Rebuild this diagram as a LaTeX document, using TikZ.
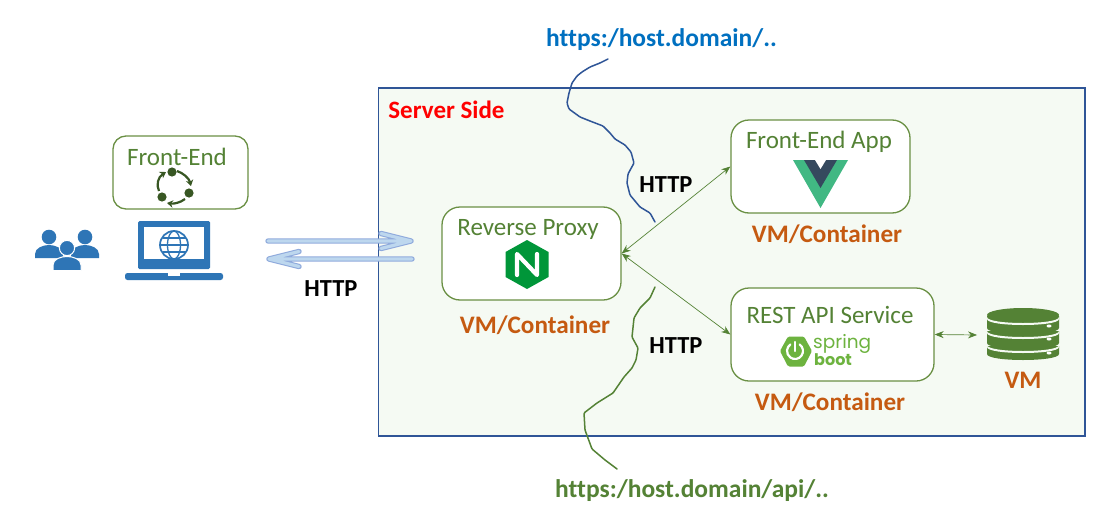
\documentclass[tikz,border=0pt]{standalone}
\usepackage{fontspec}
\setmainfont[Ligatures=NoCommon]{Carlito}
\newfontfamily\springfont{Poppins}
\usetikzlibrary{arrows.meta,calc}
\definecolor{gr}{HTML}{548235}
\definecolor{boxline}{HTML}{6A9044}
\definecolor{vmc}{HTML}{C55A11}
\definecolor{srvfill}{HTML}{F5FAF3}
\definecolor{srvline}{HTML}{2F5597}
\definecolor{iconblue}{HTML}{2E75B6}
\definecolor{urlblue}{HTML}{0070C0}
\definecolor{dkgr}{HTML}{385723}
\definecolor{arrowline}{HTML}{8FAADC}
\definecolor{arrowfill}{HTML}{BDD7EE}
\definecolor{nginxgreen}{HTML}{009639}
\definecolor{vuegreen}{HTML}{41B883}
\definecolor{vuedark}{HTML}{35495E}
\definecolor{springgreen}{HTML}{6DB33F}
\tikzset{
  appbox/.style={draw=boxline,line width=1.3pt,fill=white,rounded corners=#1,inner sep=0pt},
  title/.style={text=gr,inner sep=0pt,font=\fontsize{25}{28}\selectfont},
  vmlabel/.style={text=vmc,inner sep=0pt,font=\bfseries\fontsize{25.2}{28}\selectfont},
  httplabel/.style={text=black,inner sep=0pt,font=\bfseries\fontsize{24.5}{28}\selectfont},
  urllabel/.style={inner sep=0pt,font=\bfseries\fontsize{25.5}{28}\selectfont},
  link/.style={draw=gr,line width=0.7pt,{Stealth[length=9pt,width=7pt]}-{Stealth[length=9pt,width=7pt]}},
  squiggle/.style={line width=1.5pt,line join=round,line cap=round,rounded corners=1pt},
  cyclearrow/.style={dkgr,line width=2.2pt,-{Stealth[length=6pt,width=7.5pt]}},
}
\newcommand{\hollowarrow}[4]{%
  \draw[arrowline,line width=5.4pt,line cap=round,line join=round] (#1) -- (#2) (#3) -- (#2) -- (#4);
  \draw[arrowfill,line width=3.2pt,line cap=round,line join=round] (#1) -- (#2) (#3) -- (#2) -- (#4);}
\begin{document}
\begin{tikzpicture}[x=1pt,y=-1pt]
\useasboundingbox (0,0) rectangle (1115,527);
\fill[white] (0,0) rectangle (1115,527);
% server area
\node[draw=srvline,fill=srvfill,line width=1.3pt,minimum width=706.5pt,minimum height=348pt,inner sep=0pt] (server) at (731.75,262) {};
\node[inner sep=0pt,text=red,font=\bfseries\fontsize{25}{28}\selectfont] (serverside) at (446.5,110) {Server Side};
% front-end on the client
\node[appbox=13pt,minimum width=135pt,minimum height=73pt] (fe) at (180.5,172.5) {};
\node[title] (fetitle) at (177,157) {Front-End};
\coordinate (c1) at (172,172);
\coordinate (c2) at (189,193);
\coordinate (c3) at (162,197);
\foreach \c in {c1,c2,c3} \fill[dkgr] (\c) circle (4.6);
\draw[cyclearrow] (177,171) .. controls (183,173) and (189,178) .. (191,186);
\draw[cyclearrow] (185,199) .. controls (180,203) and (173,204) .. (167,203);
\draw[cyclearrow] (159,191) .. controls (156,185) and (158,177) .. (166,172);
% users
\foreach \hx in {49,85} {
  \fill[iconblue] (\hx,237) circle (7.3);
  \fill[iconblue] (\hx-14,258) -- (\hx-14,254) .. controls (\hx-14,248) and (\hx-6,245) .. (\hx,245) .. controls (\hx+6,245) and (\hx+14,248) .. (\hx+14,254) -- (\hx+14,258) -- cycle;
}
\fill[iconblue,draw=white,line width=1pt] (67,248) circle (7.6);
\fill[iconblue,draw=white,line width=1pt] (53,270.5) -- (53,265) .. controls (53,259) and (61,256.5) .. (67,256.5) .. controls (73,256.5) and (81,259) .. (81,265) -- (81,270.5) -- cycle;
% laptop
\fill[iconblue,rounded corners=1.5pt] (138,221) rectangle (210,269);
\fill[white] (144,227) rectangle (204,259);
\fill[iconblue,rounded corners=2.5pt] (125,273) -- (223,273) -- (223,280) -- (125,280) -- cycle;
\fill[white] (168,273) rectangle (180,276);
\draw[iconblue,line width=1.7pt] (174,245) circle (14);
\draw[iconblue,line width=1.3pt] (174,245) ellipse [x radius=6.5,y radius=14];
\draw[iconblue,line width=1.3pt] (160,245) -- (188,245);
\draw[iconblue,line width=1.1pt] (162.5,238) -- (185.5,238) (162.5,252) -- (185.5,252);
% hollow arrows
\coordinate (ua) at (268,241); \coordinate (ub) at (411,241);
\coordinate (ub1) at (381,233.5); \coordinate (ub2) at (381,248.5);
\coordinate (la) at (412,259); \coordinate (lb) at (269,259);
\coordinate (lb1) at (299,251.5); \coordinate (lb2) at (299,266.5);
\hollowarrow{ua}{ub}{ub1}{ub2}
\hollowarrow{la}{lb}{lb1}{lb2}
\node[httplabel] (http1) at (331,289) {HTTP};
% squiggles
\coordinate (bs) at (608,59);
\coordinate (be) at (655,222);
\draw[squiggle,srvline] (bs) -- (600,63) -- (590,67) -- (582,72) -- (577,76) -- (572,83) -- (569,93) -- (567,103) -- (569,109) -- (580,117) -- (590,121) -- (603,126) -- (610,133) -- (615,139) -- (625,145) -- (631,152) -- (634,163) -- (628,174) -- (627,183) -- (630,195) -- (640,207) -- (650,213) -- (be);
\coordinate (gs) at (655,287);
\coordinate (ge) at (617,469);
\draw[squiggle,gr] (gs) -- (650,298) -- (640,308) -- (634,318) -- (632,337) -- (638,348) -- (636,360) -- (632,368) -- (624,377) -- (613,393) -- (597,403) -- (584,413) -- (585,430) -- (592,449) -- (605,460) -- (ge);
\node[urllabel,text=urlblue] (url1) at (661.5,40) {https:/host.domain/..};
\node[urllabel,text=gr] (url2) at (692,491) {https:/host.domain/api/..};
% reverse proxy
\node[appbox=18pt,minimum width=179pt,minimum height=93pt] (rp) at (531.5,253.5) {};
\node[title] (rptitle) at (528,229) {Reverse Proxy};
\fill[nginxgreen] (527,240) -- (548.5,252) -- (548.5,277) -- (527,289) -- (505.5,277) -- (505.5,252) -- cycle;
\draw[white,line width=4.2pt,line cap=round,line join=round] (517,275) -- (517,254) -- (537,275) -- (537,254);
\node[vmlabel] (vm1) at (535,325) {VM/Container};
% front-end app
\node[appbox=18pt,minimum width=179pt,minimum height=93pt] (app) at (820.5,166.5) {};
\node[title] (apptitle) at (819,142) {Front-End App};
\fill[vuegreen] (793,160) -- (848,160) -- (820.5,208) -- cycle;
\fill[vuedark] (804,160) -- (837,160) -- (820.5,188) -- cycle;
\fill[white] (815,160) -- (826,160) -- (820.5,169) -- cycle;
\node[vmlabel] (vm2) at (827,234) {VM/Container};
% rest
\node[appbox=18pt,minimum width=203pt,minimum height=93pt] (rest) at (832.5,334.5) {};
\node[title] (resttitle) at (830,315) {REST API Service};
\fill[springgreen,rounded corners=1.5pt] (780,351) -- (788,336.5) -- (804,336.5) -- (812,351) -- (804,366.5) -- (788,366.5) -- cycle;
\coordinate (pw) at (795,351);
\draw[white,line width=2.2pt,line cap=round] ([shift={(-55:8)}]pw) arc[start angle=-55,end angle=235,radius=8];
\draw[white,line width=2.2pt,line cap=round] (795,342) -- (795,351);
\node[inner sep=0pt,anchor=base west,text=springgreen,font=\springfont\fontsize{18.5}{20}\selectfont] (spring) at (813,348) {spring};
\node[inner sep=0pt,anchor=base west,text=springgreen,font=\springfont\bfseries\fontsize{16}{20}\selectfont] (boot) at (814,365) {boot};
\node[vmlabel] (vm3) at (830,402) {VM/Container};
% database
\foreach \yt/\yb in {316/328,331/343,346/354} {
  \fill[gr] (987,\yt) -- (1059,\yt) -- (1059,\yb) .. controls (1059,\yb+8) and (987,\yb+8) .. (987,\yb) -- cycle;
}
\fill[gr] (1023,315) ellipse [x radius=36,y radius=7];
\fill[srvfill] (987,317) .. controls (987,325) and (1059,325) .. (1059,317) -- (1059,319) .. controls (1059,327) and (987,327) .. (987,319) -- cycle;
\fill[srvfill] (987,331) .. controls (987,339) and (1059,339) .. (1059,331) -- (1059,333) .. controls (1059,341) and (987,341) .. (987,333) -- cycle;
\fill[srvfill] (987,345) .. controls (987,353) and (1059,353) .. (1059,345) -- (1059,347) .. controls (1059,355) and (987,355) .. (987,347) -- cycle;
\foreach \yd in {326,339,353} \fill[white] (1049,\yd) ellipse [x radius=2.5,y radius=1.5];
\node[vmlabel] (vm4) at (1023,380) {VM};
% links
\coordinate (dbw) at (977,335);
\draw[link] (rp.east) -- (app.west);
\draw[link] (rp.east) -- (rest.west);
\draw[link] (rest.east) -- (dbw);
\node[httplabel] (http2) at (666,185) {HTTP};
\node[httplabel] (http3) at (676,346) {HTTP};
\end{tikzpicture}
\end{document}
